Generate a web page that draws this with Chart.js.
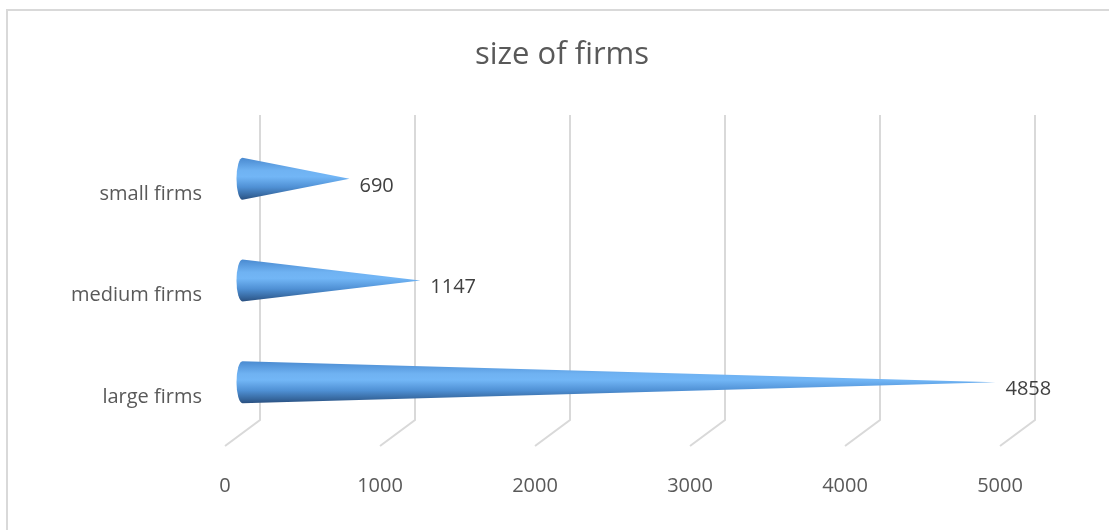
<!DOCTYPE html>
<html>
<head>
<meta charset="utf-8">
<script src="https://cdn.jsdelivr.net/npm/chart.js@4"></script>
<style>
  html, body { margin: 0; padding: 0; background: #fff; }
  #wrap { width: 1109px; height: 530px; position: relative; }
</style>
</head>
<body>
<div id="wrap"><canvas id="myChart"></canvas></div>
<script>
// data
const categories = ['small firms', 'medium firms', 'large firms'];
const firmCounts = [690, 1147, 4858];
const tickValues = [0, 1000, 2000, 3000, 4000, 5000];
const chartTitle = 'size of firms';

const depthX = 35;   // back wall shift
const depthY = 26;

// frame round the chart, and the title centred on the whole canvas
const framePlugin = {
    id: 'frame',
    beforeDraw(chart) {
        const ctx = chart.ctx;
        ctx.save();
        ctx.fillStyle = '#ffffff';
        ctx.fillRect(0, 0, chart.width, chart.height);
        ctx.strokeStyle = '#d9d9d9';
        ctx.lineWidth = 2;
        ctx.strokeRect(7, 10, chart.width + 20, chart.height + 20);

        ctx.font = '31px "Open Sans"';
        ctx.fillStyle = '#595959';
        ctx.textAlign = 'center';
        ctx.textBaseline = 'middle';
        ctx.fillText(chartTitle, 562, 55);
        ctx.restore();
    }
};

// back wall gridlines + floor lines
const wallPlugin = {
    id: 'wall',
    beforeDatasetsDraw(chart) {
        const ctx = chart.ctx;
        const xs = chart.scales.x;
        const area = chart.chartArea;
        ctx.save();
        ctx.strokeStyle = '#d9d9d9';
        ctx.lineWidth = 2;
        tickValues.forEach(function (v) {
            const px = xs.getPixelForValue(v);
            ctx.beginPath();
            ctx.moveTo(px + depthX, area.top - 13);
            ctx.lineTo(px + depthX, area.bottom - 13);
            ctx.lineTo(px, area.bottom - 13 + depthY);
            ctx.stroke();
        });
        ctx.restore();
    }
};

// cones in place of the bars, and the value labels
const conePlugin = {
    id: 'cones',
    afterDatasetsDraw(chart) {
        const ctx = chart.ctx;
        const meta = chart.getDatasetMeta(0);
        const dx = depthX / 2;
        meta.data.forEach(function (bar, i) {
            const p = bar.getProps(['x', 'y', 'base', 'height'], true);
            const r = p.height / 2;
            const baseX = p.base + dx;
            const tipX = p.x + dx;
            const cy = p.y;
            const rx = 6;

            const grad = ctx.createLinearGradient(0, cy - r, 0, cy + r);
            grad.addColorStop(0, '#4a8ad0');
            grad.addColorStop(0.3, '#6fb2f2');
            grad.addColorStop(0.45, '#72b6f6');
            grad.addColorStop(0.7, '#4f90d4');
            grad.addColorStop(0.9, '#36679e');
            grad.addColorStop(1, '#2a5080');

            ctx.save();
            ctx.beginPath();
            ctx.moveTo(tipX, cy);
            ctx.lineTo(baseX, cy - r);
            ctx.ellipse(baseX, cy, rx, r, 0, -Math.PI / 2, Math.PI / 2, true);
            ctx.closePath();
            ctx.fillStyle = grad;
            ctx.fill();

            ctx.font = '20px "Open Sans"';
            ctx.fillStyle = '#404040';
            ctx.textAlign = 'left';
            ctx.textBaseline = 'middle';
            ctx.fillText(String(firmCounts[i]), tipX + 10, cy + 7);
            ctx.restore();
        });
    }
};

new Chart(document.getElementById('myChart'), {
    type: 'bar',
    data: {
        labels: categories,
        datasets: [{
            data: firmCounts,
            backgroundColor: 'rgba(0,0,0,0)',
            borderWidth: 0,
            barThickness: 42
        }]
    },
    options: {
        indexAxis: 'y',
        responsive: true,
        maintainAspectRatio: false,
        animation: false,
        layout: { padding: { left: 0, right: 109, top: 128, bottom: 0 } },
        plugins: {
            legend: { display: false },
            tooltip: { enabled: false },
            title: { display: false }
        },
        scales: {
            x: {
                min: 0,
                max: 5000,
                afterBuildTicks(scale) {
                    scale.ticks = tickValues.map(v => ({ value: v }));
                },
                afterFit(scale) { scale.height = 97; },
                grid: { display: false, drawTicks: false },
                border: { display: false },
                ticks: {
                    color: '#595959',
                    font: { family: 'Open Sans', size: 20 },
                    padding: 41,
                    callback: v => String(v)
                }
            },
            y: {
                afterFit(scale) { scale.width = 225; },
                grid: { display: false, drawTicks: false },
                border: { display: false },
                ticks: {
                    color: '#595959',
                    font: { family: 'Open Sans', size: 20 },
                    padding: 23,
                    labelOffset: 15
                }
            }
        }
    },
    plugins: [framePlugin, wallPlugin, conePlugin]
});
</script>
</body>
</html>
